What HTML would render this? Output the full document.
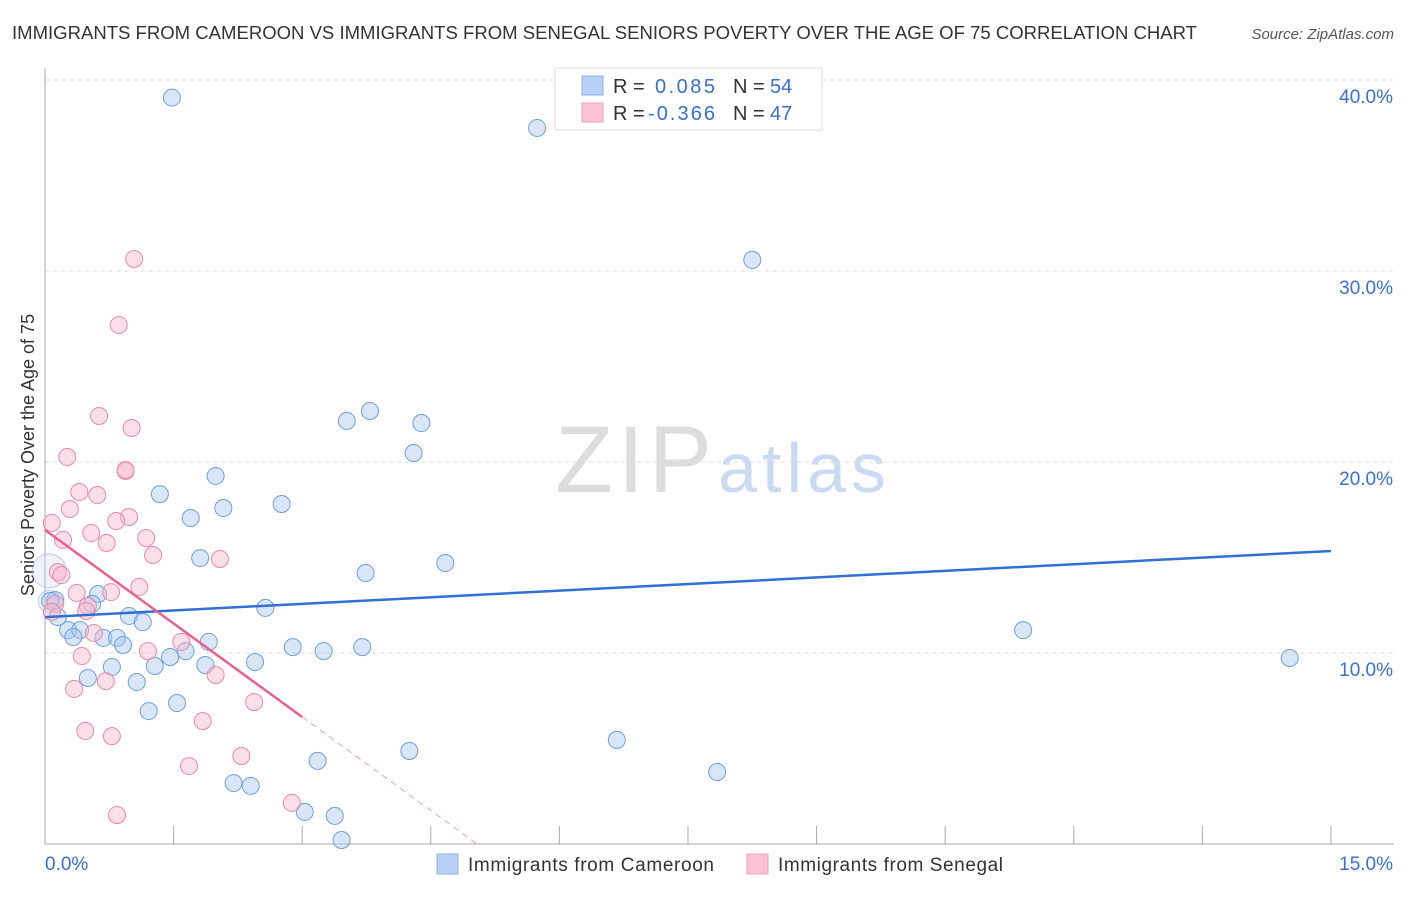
<!DOCTYPE html>
<html><head><meta charset="utf-8"><style>
body{margin:0;background:#fff;font-family:"Liberation Sans",sans-serif}
svg text{font-family:"Liberation Sans",sans-serif}
</style></head><body>
<svg id="chart" width="1406" height="892">
<text x="12" y="39" font-size="18" fill="#333" textLength="1185" lengthAdjust="spacingAndGlyphs">IMMIGRANTS FROM CAMEROON VS IMMIGRANTS FROM SENEGAL SENIORS POVERTY OVER THE AGE OF 75 CORRELATION CHART</text>
<text x="1394" y="39" font-size="15" fill="#555" font-style="italic" text-anchor="end">Source: ZipAtlas.com</text>
<text x="555" y="492" font-size="95" fill="#ddd" font-family="Liberation Serif" textLength="157">ZIP</text>
<text x="718" y="492" font-size="70" fill="#c9daf2" textLength="168">atlas</text>
<text transform="translate(34,455) rotate(-90)" font-size="18" fill="#333" text-anchor="middle">Seniors Poverty Over the Age of 75</text>
<g id="grid"></g><g id="pts"></g><g id="lines"></g>
<g>
<rect x="555" y="68" width="267" height="62" fill="#fff" stroke="#ddd"/>
<rect x="582" y="76" width="21" height="19" fill="#b7d0f3" stroke="#8db2e8"/>
<rect x="582" y="103" width="21" height="19" fill="#f9c3d3" stroke="#f0a2bb"/>
<text x="613" y="93" font-size="20" fill="#333">R = </text><text x="655" y="93" font-size="20" fill="#3a6fd0" textLength="60">0.085</text>
<text x="733" y="93" font-size="20" fill="#333">N = </text><text x="770" y="93" font-size="20" fill="#3a6fd0">54</text>
<text x="613" y="120" font-size="20" fill="#333">R = </text><text x="648" y="120" font-size="20" fill="#3a6fd0" textLength="67">-0.366</text>
<text x="733" y="120" font-size="20" fill="#333">N = </text><text x="770" y="120" font-size="20" fill="#3a6fd0">47</text>
</g>
<g>
<rect x="437" y="854" width="21" height="20" fill="#b7d0f3" stroke="#8db2e8"/>
<text x="468" y="871" font-size="19" fill="#333" textLength="246">Immigrants from Cameroon</text>
<rect x="747" y="854" width="21" height="20" fill="#f9c3d3" stroke="#f0a2bb"/>
<text x="778" y="871" font-size="19" fill="#333" textLength="225">Immigrants from Senegal</text>
</g>
</svg>
<script>
const yTicks=[10,20,30,40];
const xTickCount=[0,1.5,3,4.5,6,7.5,9,10.5,12,13.5,15];
const blueX=[1.48,5.74,8.25,3.52,3.79,4.39,4.30,1.34,1.99,1.70,2.08,2.76,4.67,3.74,1.81,0.62,0.55,0.12,0.98,1.14,0.27,0.41,0.33,0.68,0.84,0.91,1.91,1.64,1.46,1.28,0.78,1.87,2.45,2.89,3.25,3.70,2.57,0.50,1.07,1.21,1.54,3.18,4.25,6.67,7.84,2.20,2.40,3.03,3.38,3.46,11.41,14.52,0.06,0.15];
const blueY=[39.08,37.49,30.58,22.15,22.67,22.04,20.47,18.32,19.27,17.07,17.59,17.80,14.71,14.19,14.97,13.09,12.57,12.77,11.94,11.62,11.20,11.20,10.84,10.79,10.79,10.42,10.58,10.10,9.79,9.32,9.27,9.37,9.53,10.31,10.10,10.31,12.36,8.69,8.48,6.96,7.38,4.35,4.87,5.45,3.77,3.19,3.04,1.68,1.47,0.21,11.20,9.74,12.72,11.88];
const pinkX=[1.04,0.86,0.63,1.01,0.26,0.94,0.40,0.61,0.29,0.08,0.98,0.83,0.54,0.21,0.72,1.18,1.26,2.04,0.15,0.19,0.77,1.10,0.37,0.50,0.12,0.57,1.59,1.20,0.43,1.99,0.71,0.34,2.44,1.84,0.47,0.78,2.29,1.68,2.88,0.84,0.94,0.48,0.08];
const pinkY=[30.63,27.17,22.41,21.78,20.26,19.53,18.43,18.27,17.54,16.81,17.12,16.91,16.28,15.92,15.76,16.02,15.13,14.92,14.24,14.08,13.19,13.46,13.14,12.46,12.57,11.05,10.58,10.10,9.84,8.85,8.53,8.12,7.43,6.44,5.92,5.65,4.61,4.08,2.15,1.52,19.58,12.20,12.15];
const blueTrend=[11.88,15.34];
const pinkTrend=[16.44,6.65];
const NS="http://www.w3.org/2000/svg";
const X=v=>45+v*85.73, Y=v=>844-v*19.1;
function mk(t,a,p){const e=document.createElementNS(NS,t);for(const k in a)e.setAttribute(k,a[k]);p.appendChild(e);return e;}
const g=document.getElementById('grid');
for(const t of yTicks){
 const l=mk('line',{x1:45,x2:1394,y1:Y(t),y2:Y(t),stroke:'#ddd','stroke-dasharray':'4,4'},g);
 
 
 const tx=mk('text',{x:1393,y:Y(t)+23,'font-size':19,fill:'#3a6fd0','text-anchor':'end'},g);tx.textContent=t.toFixed(1)+'%';
 
 
}
mk('line',{x1:45,x2:45,y1:68,y2:844,stroke:'#aaa'},g);
mk('line',{x1:45,x2:1394,y1:844,y2:844,stroke:'#aaa'},g);
for(const t of xTickCount){const l=mk('line',{x1:X(t),x2:X(t),y1:826,y2:844,stroke:'#aaa'},g);
 
 }
let a=mk('text',{x:45,y:870,'font-size':19,fill:'#3a6fd0'},g);a.textContent='0.0%';

a=mk('text',{x:1393,y:870,'font-size':19,fill:'#3a6fd0','text-anchor':'end'},g);a.textContent='15.0%';

const p=document.getElementById('pts');
mk('circle',{cx:X(0.05),cy:Y(14.3),r:17,fill:'#c9dbf5','fill-opacity':0.3,stroke:'#8db2e8','stroke-opacity':0.6},p);
mk('circle',{cx:X(0.05),cy:Y(12.7),r:11,fill:'#c9dbf5','fill-opacity':0.3,stroke:'#8db2e8','stroke-opacity':0.6},p);
blueX.forEach((x,i)=>{const c=mk('circle',{cx:X(x),cy:Y(blueY[i]),r:8.5,fill:'#a9c8f0','fill-opacity':0.45,stroke:'#6f9fe0','stroke-width':1},p);
 
 });
pinkX.forEach((x,i)=>{const c=mk('circle',{cx:X(x),cy:Y(pinkY[i]),r:8.5,fill:'#f6b9cc','fill-opacity':0.45,stroke:'#e98aa8','stroke-width':1},p);
 
 });
const L=document.getElementById('lines');
let b=mk('line',{x1:X(0),y1:Y(blueTrend[0]),x2:X(15),y2:Y(blueTrend[1]),stroke:'#2f6fd6','stroke-width':2.5},L);


const slope=(pinkTrend[1]-pinkTrend[0])/3, x0=-pinkTrend[0]/slope;
b=mk('line',{x1:X(0),y1:Y(pinkTrend[0]),x2:X(3),y2:Y(pinkTrend[1]),stroke:'#e8628e','stroke-width':2.5},L);


b=mk('line',{x1:X(3),y1:Y(pinkTrend[1]),x2:X(x0),y2:Y(0),stroke:'#e8a0b8','stroke-width':1,'stroke-dasharray':'6,5'},L);


</script>
</body></html>
